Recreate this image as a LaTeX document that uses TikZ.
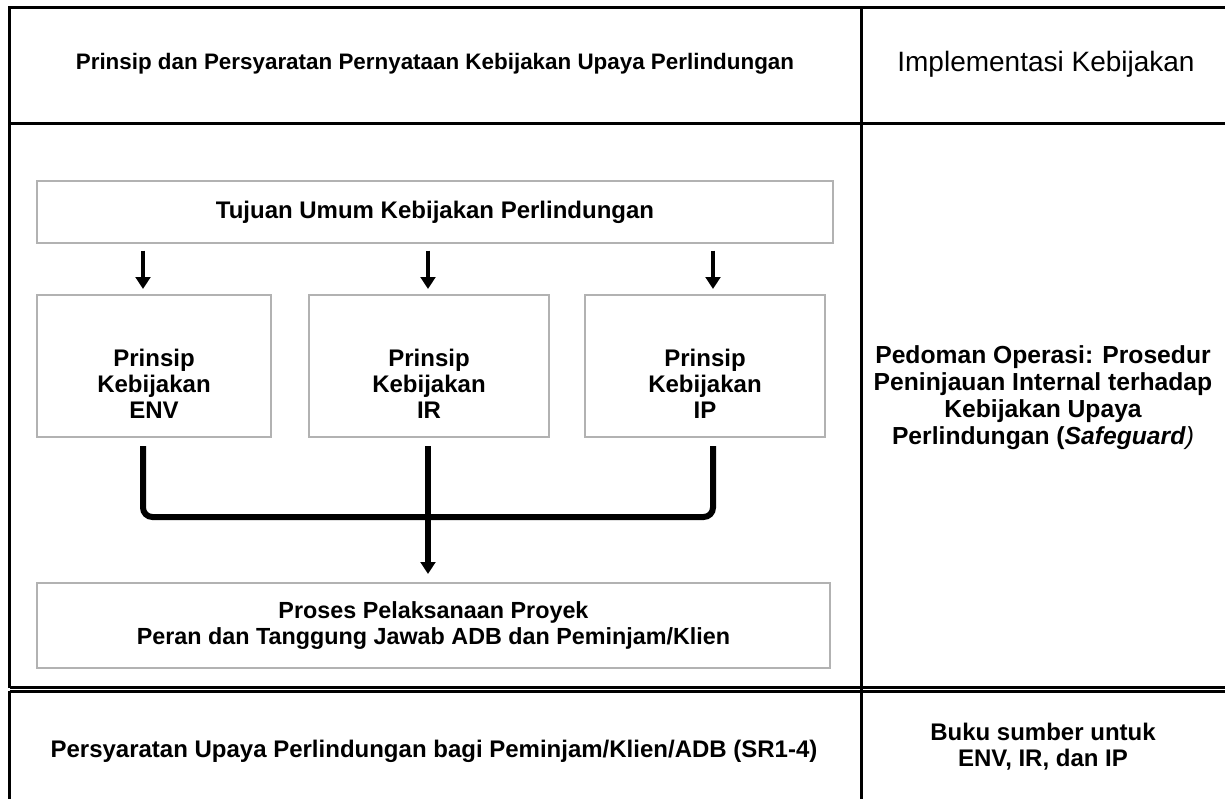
\documentclass[tikz,border=0pt]{standalone}
\usepackage{fontspec}
\setmainfont{Liberation Sans}
\usetikzlibrary{arrows.meta,positioning}

\begin{document}
\begin{tikzpicture}[
  x=0.75pt, y=-0.75pt,
  rule/.style={line width=2.25pt},
  box/.style={draw=gray!60,line width=1.5pt,inner sep=0pt},
  txt/.style={align=center,font=\fontsize{18}{19.5}\selectfont\bfseries},
  arr/.style={-{Triangle[width=11pt,length=9pt]},line width=3.5pt},
  brace/.style={line width=4.5pt,rounded corners=7pt}
]
\useasboundingbox (0,0) rectangle (1225,799);
% table frame
\draw[rule] (1226,7.5) -- (9.5,7.5) -- (9.5,688);
\draw[rule] (9.5,691) -- (9.5,800);
\draw[rule] (861,7.5) -- (861,800);
\draw[rule] (9.5,124) -- (1226,124);
\draw[line width=1.6pt] (9.5,687.5) -- (1226,687.5);
\draw[line width=1.6pt] (9.5,691.5) -- (1226,691.5);

% header row
\node[txt,font=\fontsize{16.8}{19.5}\selectfont\bfseries] (hdrl) at (435,64) {Prinsip dan Persyaratan Pernyataan Kebijakan Upaya Perlindungan};
\node[font=\fontsize{21}{24}\selectfont] (hdrr) at (1046,64) {Implementasi Kebijakan};

% boxes
\node[box,txt,minimum width=597pt,minimum height=46.5pt] (tujuan) at (435,212) {Tujuan Umum Kebijakan Perlindungan};
\node[box,minimum width=175.5pt,minimum height=106.5pt] (env) at (154,366) {};
\node[box,minimum width=180pt,minimum height=106.5pt] (ir) at (429,366) {};
\node[box,minimum width=180pt,minimum height=106.5pt] (ip) at (705,366) {};
\node[txt] (envtxt) at (154,384) {Prinsip\\Kebijakan\\ENV};
\node[txt] (irtxt) at (429,384) {Prinsip\\Kebijakan\\IR};
\node[txt] (iptxt) at (705,384) {Prinsip\\Kebijakan\\IP};
\node[box,txt,minimum width=594.75pt,minimum height=63.75pt,font=\fontsize{17.5}{20}\selectfont\bfseries] (proses) at (433.5,625.5)
  {Proses Pelaksanaan Proyek\\Peran dan Tanggung Jawab ADB dan Peminjam/Klien};

% connectors
\coordinate (ca) at (143,0);
\coordinate (cb) at (428,0);
\coordinate (cc) at (713,0);
\draw[arr] ([yshift=-5pt]tujuan.south -| ca) -- ([yshift=3.75pt]env.north -| ca);
\draw[arr] ([yshift=-5pt]tujuan.south -| cb) -- ([yshift=3.75pt]ir.north -| cb);
\draw[arr] ([yshift=-5pt]tujuan.south -| cc) -- ([yshift=3.75pt]ip.north -| cc);
\draw[brace] ([yshift=-6pt]env.south -| ca) -- ++(0,71) -| ([yshift=-6pt]ip.south -| cc);
\draw[arr,line width=4pt] ([yshift=-6pt]ir.south -| cb) -- ([yshift=6pt]proses.north -| cb);

% right column
\node[txt,font=\fontsize{18.5}{20.25}\selectfont\bfseries] (pedoman) at (1043,398)
  {Pedoman Operasi: Prosedur\\Peninjauan Internal terhadap\\Kebijakan Upaya\\Perlindungan (\textit{Safeguard}{\mdseries\itshape )}};

% bottom row
\node[txt] (syarat) at (434,751) {Persyaratan Upaya Perlindungan bagi Peminjam/Klien/ADB (SR1-4)};
\node[txt] (buku) at (1043,747) {Buku sumber untuk\\ENV, IR, dan IP};
\end{tikzpicture}
\end{document}
